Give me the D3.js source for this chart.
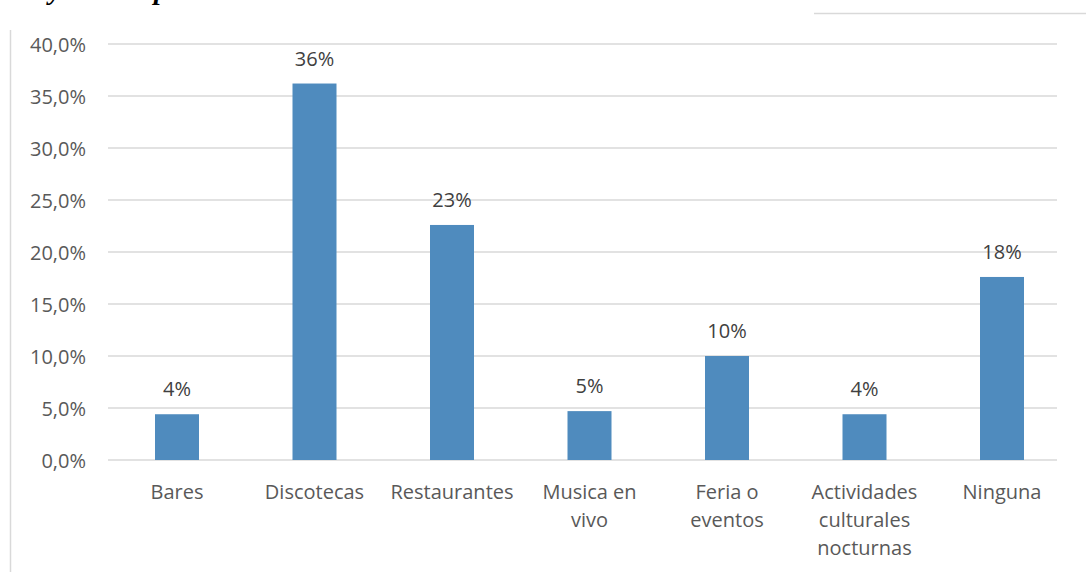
<!DOCTYPE html>
<html><head><meta charset="utf-8">
<script src="https://cdn.jsdelivr.net/npm/d3@7"></script>
<style>body{margin:0;background:#fff;}svg{display:block;}</style>
</head><body>
<svg id="c" width="1086" height="572"></svg>
<script>
const categories = [["Bares"],["Discotecas"],["Restaurantes"],["Musica en","vivo"],["Feria o","eventos"],["Actividades","culturales","nocturnas"],["Ninguna"]];
const values = [0.044, 0.362, 0.226, 0.047, 0.100, 0.044, 0.176];
const valueLabels = ["4%","36%","23%","5%","10%","4%","18%"];
const yTicks = [0,0.05,0.10,0.15,0.20,0.25,0.30,0.35,0.40];

(function(){
const svg = d3.select("#c");
const font = "'Open Sans', 'Noto Sans', sans-serif";
const fs = 20;
const pl = 108, pr = 1057, pt = 44, pb = 460;
const x = d3.scaleBand().domain(d3.range(categories.length)).range([108.25,1070.75]).paddingInner(0.68).paddingOuter(0.34);
const y = d3.scaleLinear().domain([0,0.40]).range([pb,pt]);

svg.append("line").attr("x1",10.5).attr("x2",10.5).attr("y1",30).attr("y2",572).attr("stroke","#d9d9d9").attr("stroke-width",1.5);
svg.append("line").attr("x1",814).attr("x2",1086).attr("y1",13.5).attr("y2",13.5).attr("stroke","#d9d9d9").attr("stroke-width",1.5);

svg.append("text").attr("x",49).attr("y",-1).attr("font-family","'Liberation Serif', serif").attr("font-weight","bold").attr("font-style","italic").attr("font-size",28).attr("fill","#000").text("y");
svg.append("text").attr("x",154).attr("y",-1).attr("font-family","'Liberation Serif', serif").attr("font-weight","bold").attr("font-style","italic").attr("font-size",28).attr("fill","#000").text("p");

svg.append("g").selectAll("line").data(yTicks).join("line")
  .attr("x1",pl).attr("x2",pr).attr("y1",d=>y(d)).attr("y2",d=>y(d))
  .attr("stroke","#d9d9d9").attr("stroke-width",1.5);

const yAxis = d3.axisLeft(y).tickValues(yTicks).tickSize(0).tickPadding(0)
  .tickFormat(d=>d3.format(".1f")(d*100).replace(".",",")+"%");
const gy = svg.append("g").attr("transform",`translate(${pl-22},0)`).call(yAxis);
gy.select(".domain").remove();
gy.selectAll("text").attr("font-family",font).attr("font-size",fs).attr("fill","#595959").attr("dy","0.35em");

svg.append("g").selectAll("rect").data(values).join("rect")
  .attr("x",(d,i)=>x(i)).attr("width",x.bandwidth())
  .attr("y",d=>y(d)).attr("height",d=>pb-y(d))
  .attr("fill","#4f8bbe");

svg.append("g").selectAll("text").data(values).join("text")
  .attr("x",(d,i)=>x(i)+x.bandwidth()/2).attr("y",d=>y(d)-18)
  .attr("text-anchor","middle").attr("font-family",font).attr("font-size",fs).attr("fill","#404040")
  .text((d,i)=>valueLabels[i]);

const gx = svg.append("g");
categories.forEach((lines,i)=>{
  const cx = x(i)+x.bandwidth()/2;
  const t = gx.append("text").attr("x",cx).attr("y",499)
    .attr("text-anchor","middle").attr("font-family",font).attr("font-size",fs).attr("fill","#595959");
  lines.forEach((ln,j)=>t.append("tspan").attr("x",cx).attr("dy",j===0?0:28).text(ln));
});
})();
</script>
</body></html>
